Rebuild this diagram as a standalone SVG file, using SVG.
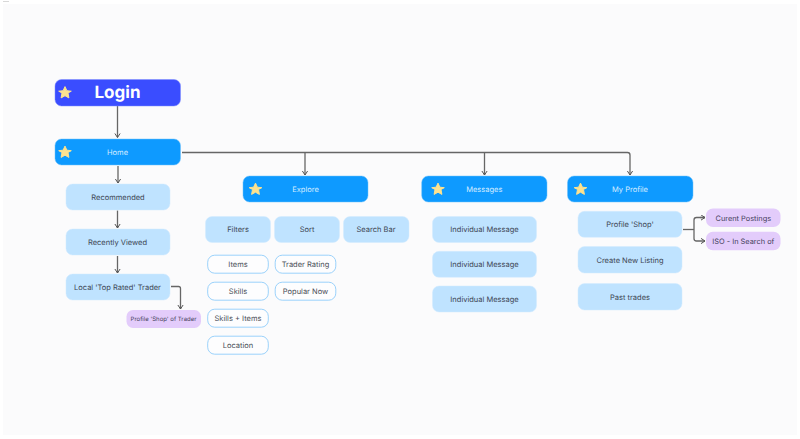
<svg xmlns="http://www.w3.org/2000/svg" width="800" height="439" viewBox="0 0 800 439">
<style>
text{font-family:Inter,"Liberation Sans",sans-serif;text-anchor:middle;dominant-baseline:central;text-rendering:geometricPrecision}
.hd rect{fill:#0e9aff;stroke:#6fc0fb;stroke-width:.5}
.hd text{fill:#d5ecff;font-size:7.500px}
.star{fill:#fde28f}
.bl rect{fill:#bfe3ff;stroke:#d2ebff;stroke-width:.5}
.bl text{fill:#3d4654;font-size:7.500px}
.ol rect{fill:#fdfdfe;stroke:#9bd2fb;stroke-width:1}
.ol text{fill:#4a4f58;font-size:7.500px}
.pu rect{fill:#e3ccfb}
.pu text{fill:#453f5c;font-size:7.400px}
.c path{fill:none;stroke:#666;stroke-width:1.300}
</style>
<defs>
<marker id="a" markerWidth="7" markerHeight="7" refX="5" refY="3" orient="auto" markerUnits="userSpaceOnUse"><path d="M1 .4L5 3L1 5.600" fill="none" stroke="#555" stroke-width="1"/></marker>
<path id="s" class="star" d="M0-6.400L1.900-2.300L6.300-1.800L3-.1L3.900 4.900L0 2.700L-3.900 4.900L-3-.1L-6.300-1.800L-1.900-2.300Z" stroke="#fde28f" stroke-width="1" stroke-linejoin="round"/>
</defs>
<rect width="800" height="439" fill="#fff"/>
<rect x="3" y="4" width="794" height="431" fill="#fbfbfc"/>
<rect x="3" y="1" width="6" height="1" fill="#d8d8d8"/>
<g id="connectors" class="c">
<path d="M117.500 106V137.500" marker-end="url(#a)"/>
<path d="M118 166V183" marker-end="url(#a)"/>
<path d="M117.500 210.500V228" marker-end="url(#a)"/>
<path d="M117.500 256V273" marker-end="url(#a)"/>
<path d="M171 286.500H178.500Q180.500 286.500 180.500 288.500V309" marker-end="url(#a)"/>
<path d="M182 152.500H627.500Q630 152.500 630 155V175" marker-end="url(#a)"/>
<path d="M305 152.500V175" marker-end="url(#a)"/>
<path d="M484.500 152.500V175" marker-end="url(#a)"/>
<path d="M683 229.500H694"/>
<path d="M705 217.500H696.500Q694 217.500 694 220V238.500Q694 241 696.500 241H705" marker-end="url(#a)"/>
<path d="M700 217.500H705" marker-end="url(#a)"/>
</g>
<g id="login"><rect x="55" y="79.500" width="125.500" height="26.500" rx="6.500" fill="#3a4dff" stroke="#7f8cff" stroke-width=".5"/><use href="#s" x="65" y="93"/><text x="117.500" y="93" font-size="17" font-weight="700" fill="#fff">Login</text></g>
<g id="home" class="hd"><rect x="55" y="139" width="125.500" height="26" rx="6.500"/><use href="#s" x="65" y="152.500"/><text x="117.500" y="152.300">Home</text></g>
<g id="explore" class="hd"><rect x="243" y="176" width="125" height="26" rx="6.500"/><use href="#s" x="255.500" y="189.500"/><text x="305.500" y="189.300">Explore</text></g>
<g id="messages" class="hd"><rect x="421.700" y="176" width="125.300" height="26" rx="6.500"/><use href="#s" x="438" y="189.500"/><text x="484.300" y="189.300">Messages</text></g>
<g id="my-profile" class="hd"><rect x="567.500" y="176" width="125.500" height="26" rx="6.500"/><use href="#s" x="580.500" y="189.500"/><text x="630" y="189.300">My Profile</text></g>
<g id="recommended" class="bl"><rect x="66" y="184" width="104" height="26" rx="6.500"/><text x="118" y="197.300">Recommended</text></g>
<g id="recently-viewed" class="bl"><rect x="66" y="229" width="104" height="26" rx="6.500"/><text x="117.500" y="242.300">Recently Viewed</text></g>
<g id="local-top-rated" class="bl"><rect x="66" y="274" width="104" height="26" rx="6.500"/><text x="117.500" y="287.300">Local 'Top Rated' Trader</text></g>
<g id="profile-shop-trader" class="pu"><rect x="126.500" y="310" width="74.500" height="18" rx="6.500"/><text x="163.500" y="319.200" style="font-size:6px">Profile 'Shop' of Trader</text></g>
<g id="filters" class="bl"><rect x="205.500" y="216.500" width="65" height="26" rx="6.500"/><text x="238" y="229.800">Filters</text></g>
<g id="sort" class="bl"><rect x="274.500" y="216.500" width="65" height="26" rx="6.500"/><text x="307" y="229.800">Sort</text></g>
<g id="search-bar" class="bl"><rect x="343.500" y="216.500" width="65.500" height="26" rx="6.500"/><text x="376" y="229.800">Search Bar</text></g>
<g id="items" class="ol"><rect x="207.700" y="255.200" width="60.600" height="18" rx="7"/><text x="238" y="264.500">Items</text></g>
<g id="skills" class="ol"><rect x="207.700" y="282.200" width="60.600" height="18" rx="7"/><text x="238" y="291.500">Skills</text></g>
<g id="skills-items" class="ol"><rect x="207.700" y="309.200" width="60.600" height="18" rx="7"/><text x="238" y="318.500">Skills + Items</text></g>
<g id="location" class="ol"><rect x="207.700" y="336.200" width="60.600" height="18" rx="7"/><text x="238" y="345.500">Location</text></g>
<g id="trader-rating" class="ol"><rect x="275.200" y="255.200" width="60.600" height="18" rx="7"/><text x="305.500" y="264.500">Trader Rating</text></g>
<g id="popular-now" class="ol"><rect x="275.200" y="282.200" width="60.600" height="18" rx="7"/><text x="305.500" y="291.500">Popular Now</text></g>
<g id="message-1" class="bl"><rect x="432.500" y="216.500" width="104" height="26" rx="6.500"/><text x="484.500" y="229.800">Individual Message</text></g>
<g id="message-2" class="bl"><rect x="432.500" y="251.300" width="104" height="26" rx="6.500"/><text x="484.500" y="264.600">Individual Message</text></g>
<g id="message-3" class="bl"><rect x="432.500" y="286" width="104" height="26" rx="6.500"/><text x="484.500" y="299.300">Individual Message</text></g>
<g id="profile-shop" class="bl"><rect x="578" y="211.300" width="104" height="26" rx="6.500"/><text x="630" y="224.600">Profile 'Shop'</text></g>
<g id="create-listing" class="bl"><rect x="578" y="246.500" width="104" height="26.500" rx="6.500"/><text x="630" y="260">Create New Listing</text></g>
<g id="past-trades" class="bl"><rect x="578" y="283.500" width="104" height="26.500" rx="6.500"/><text x="630" y="297">Past trades</text></g>
<g id="current-postings" class="pu"><rect x="706" y="208.500" width="74.500" height="18.500" rx="7"/><text x="743.300" y="218">Curent Postings</text></g>
<g id="iso" class="pu"><rect x="706" y="231.800" width="74.500" height="18.500" rx="7"/><text x="743.300" y="241.200">ISO - In Search of</text></g>
</svg>
